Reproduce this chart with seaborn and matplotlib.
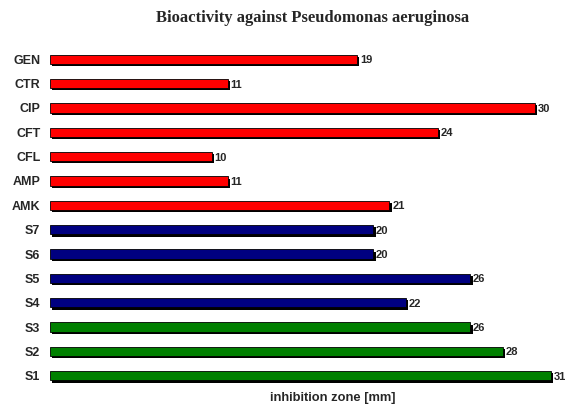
import matplotlib
matplotlib.use("Agg")
import matplotlib.pyplot as plt
import matplotlib.patheffects as pe
import pandas as pd
import seaborn as sns

# data
labels = ["GEN", "CTR", "CIP", "CFT", "CFL", "AMP", "AMK",
          "S7", "S6", "S5", "S4", "S3", "S2", "S1"]
zones = [19, 11, 30, 24, 10, 11, 21, 20, 20, 26, 22, 26, 28, 31]
groups = ["ref"] * 7 + ["blue"] * 4 + ["green"] * 3
colors = {"ref": "#ff0000", "blue": "#000080", "green": "#008000"}

df = pd.DataFrame({"compound": labels, "zone": zones, "group": groups})

sns.set_style("white")
plt.rcParams["font.family"] = ["Liberation Sans", "DejaVu Sans"]

fig = plt.figure(figsize=(5.66, 4.05), dpi=100)
ax = fig.add_axes([50 / 566, 0.036, 510 / 566, 0.854])

sns.barplot(data=df, x="zone", y="compound", hue="group", palette=colors,
            dodge=False, legend=False, width=0.38, edgecolor="black",
            linewidth=0.6, saturation=1, ax=ax)

# black drop shadow under each bar
shadow = [pe.SimplePatchShadow(offset=(1.6, -1.6), shadow_rgbFace="black", alpha=1),
          pe.Normal()]
for bar in ax.patches:
    bar.set_path_effects(shadow)

for cont in ax.containers:
    txts = ax.bar_label(cont, padding=2, fontsize=8, fontweight="bold", clip_on=False)
    for t in txts:
        t.set_va("center_baseline")

ax.set_xlim(0, 31.55)
ax.set_ylim(13.6, -0.6)
ax.set_xticks([])
ax.tick_params(axis="y", length=0, pad=7)
for t in ax.get_yticklabels():
    t.set_fontweight("bold")
    t.set_fontsize(9)
ax.set_ylabel("")
ax.set_xlabel("inhibition zone [mm]", fontsize=9.3, fontweight="bold")
ax.xaxis.set_label_coords(0.555, -0.004)
sns.despine(left=True, bottom=True)

fig.suptitle("Bioactivity against Pseudomonas aeruginosa", x=0.553, y=0.975,
             fontsize=12, fontweight="bold", family="Liberation Serif")

fig.savefig("out.png", dpi=100)
